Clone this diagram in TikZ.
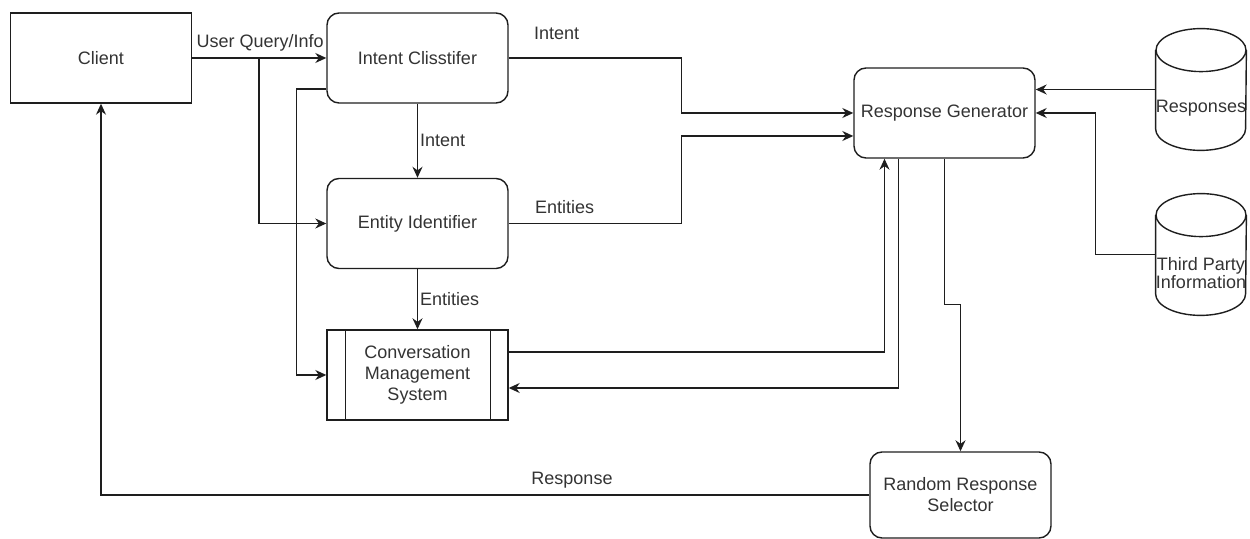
\documentclass[tikz,border=0pt]{standalone}
\usepackage{fontspec}
\setmainfont{Liberation Sans}
\usetikzlibrary{arrows.meta,calc}
\definecolor{inkcolor}{RGB}{30,30,30}
\definecolor{textcolor}{RGB}{51,51,51}

\tikzset{
  box/.style={draw=inkcolor, line width=0.7pt, minimum width=90.5pt, minimum height=45pt,
    align=center, text=textcolor, font=\fontsize{9}{10.5}\selectfont},
  roundbox/.style={box, rounded corners=6pt},
  dbbox/.style={minimum width=45pt, minimum height=60.5pt, inner sep=0pt},
  flow/.style={draw=inkcolor, line width=0.7pt, -{Stealth[length=5.5pt,width=5pt]}},
  link/.style={draw=inkcolor, line width=0.7pt},
  lbl/.style={text=textcolor, font=\fontsize{9}{9}\selectfont, inner sep=1pt, align=center},
}

% data store drawn round an empty node
\newcommand{\dbshape}[1]{%
  \draw[link] ([yshift=-10.75pt]#1.north) ellipse [x radius=22.5pt, y radius=10.75pt];
  \draw[link] ([yshift=-10.75pt]#1.north west) -- ([yshift=10.75pt]#1.south west)
    arc [start angle=180, end angle=360, x radius=22.5pt, y radius=10.75pt]
    -- ([yshift=-10.75pt]#1.north east);
}

\begin{document}
\begin{tikzpicture}[x=0.5pt, y=-0.5pt]
\useasboundingbox (0,0) rectangle (1250,539);

% boxes
\node[box] (client) at (101,58) {Client};
\node[roundbox] (intent) at (417.5,58) {Intent Clisstifer};
\node[roundbox] (entity) at (417.5,223.5) {Entity Identifier};
\node[box] (cms) at (417.5,375) {Conversation\\Management\\System};
\draw[link] ([xshift=9.5pt]cms.north west) -- ([xshift=9.5pt]cms.south west);
\draw[link] ([xshift=-9pt]cms.north east) -- ([xshift=-9pt]cms.south east);
\node[roundbox] (respgen) at (944.5,113) {Response Generator};
\node[roundbox, minimum height=43pt] (rrs) at (960.5,495) {Random Response\\Selector};

% data stores
\node[dbbox] (responses) at (1201,89.5) {};
\dbshape{responses}
\node[lbl] (responsestxt) at ([yshift=-9.5pt]responses.center) {Responses};
\node[dbbox] (thirdparty) at (1201,254.5) {};
\dbshape{thirdparty}
\node[lbl] (thirdpartytxt) at ([yshift=-9.5pt]thirdparty.center) {Third Party\\Information};

% query goes to classifier, identifier and conversation manager
\coordinate (qsplit) at (259,58);
\draw[flow] (client.east) -- (intent.west);
\node[lbl, anchor=west] (querylbl) at ([xshift=1pt,yshift=7.5pt]client.east) {User Query/Info};
\draw[flow] (qsplit) |- (entity.west);
\draw[flow] ([yshift=-15.5pt]intent.west) -- ++(-30,0) |- (cms.west);
\draw[flow] (intent.south) -- node[lbl, right] (intentlbl) {Intent} (entity.north);
\draw[flow] (entity.south) -- node[lbl, right] (entitieslbl) {Entities} (cms.north);

% into the generator
\draw[flow] (intent.east) -- ++(173,0) |- (respgen.west);
\node[lbl, anchor=west] (intentlbltop) at ([xshift=11.5pt,yshift=12.5pt]intent.east) {Intent};
\draw[flow] (entity.east) -- ++(173,0) |- ([yshift=-11.5pt]respgen.west);
\node[lbl, anchor=west] (entitieslbltop) at ([xshift=12pt,yshift=8pt]entity.east) {Entities};
\draw[flow] ([yshift=11.5pt]cms.east) -| ([xshift=-30pt]respgen.south);
\draw[flow] ([xshift=-23pt]respgen.south) |- ([yshift=-6.5pt]cms.east);
\draw[flow] (responses.west) -- (responses.west -| respgen.east);
\draw[flow] (thirdparty.west) -- ++(-60,0) |- (respgen.east);

% back to the client
\draw[flow] (respgen.south) -- ++(0,146) -| (rrs.north);
\draw[flow] (rrs.west) -| (client.south);
\node[lbl] (responselbl) at (572,480) {Response};
\end{tikzpicture}
\end{document}
